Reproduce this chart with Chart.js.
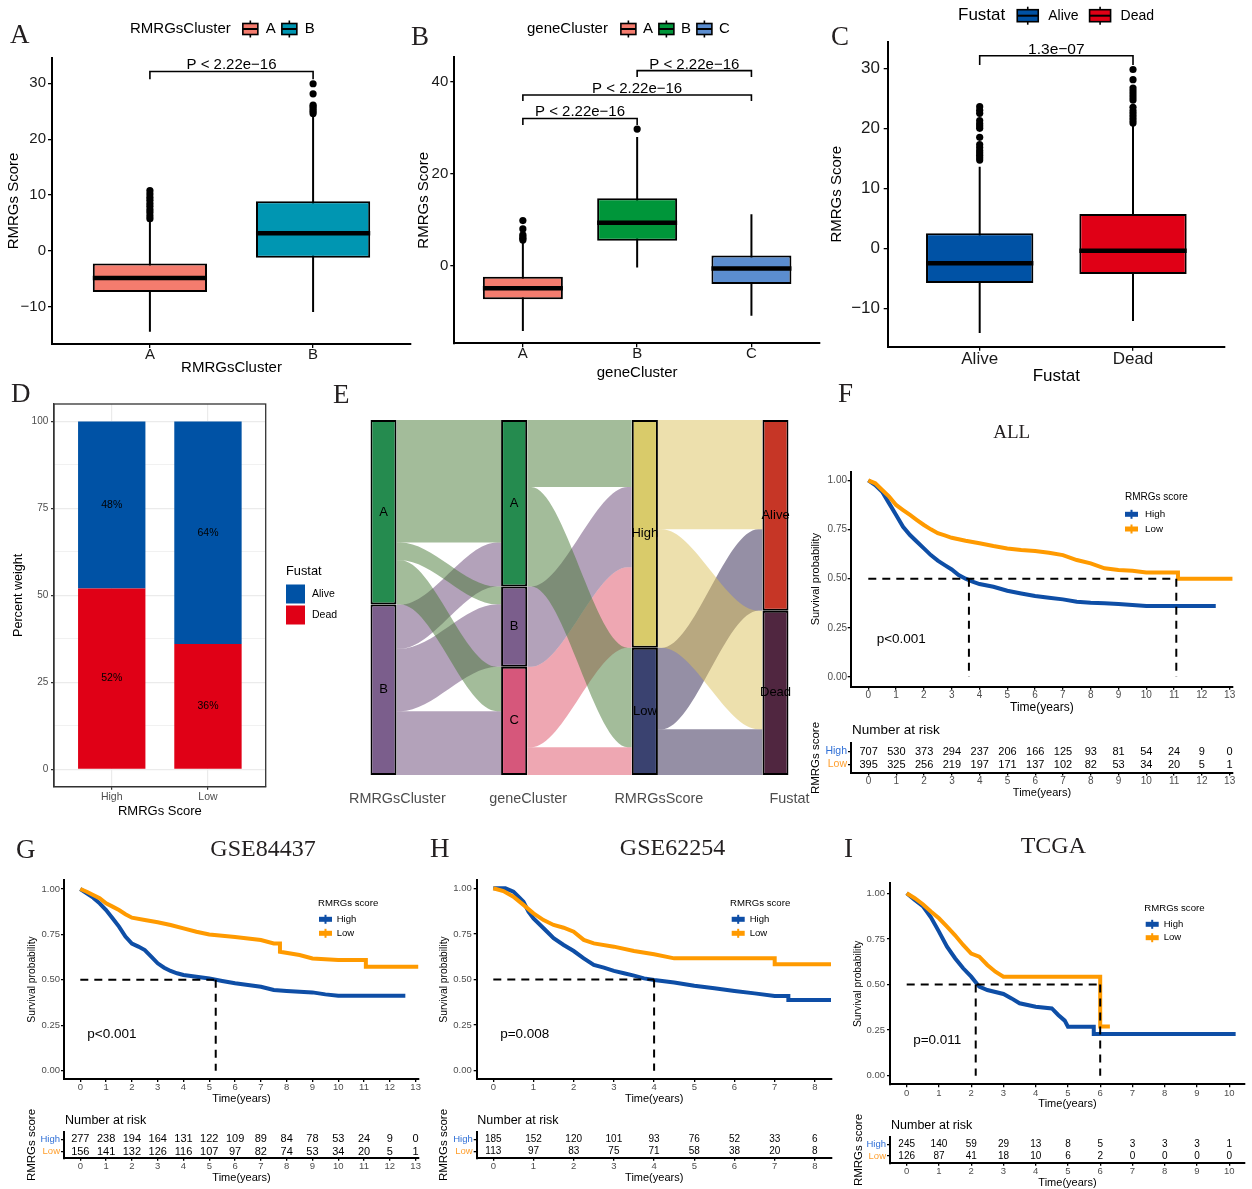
<!DOCTYPE html>
<html>
<head>
<meta charset="utf-8">
<script src="https://cdn.jsdelivr.net/npm/chart.js@4.4.1/dist/chart.umd.min.js"></script>
<style>
  body { margin: 0; background: #fff; }
  #page { position: relative; width: 1252px; height: 1189px; overflow: hidden; background: #fff; }
  #page canvas { position: absolute; }
  .tag { position: absolute; font-family: 'Liberation Serif', 'Times New Roman', serif; font-size: 27px; line-height: 27px; color: #231f20; }
</style>
</head>
<body>
<div id="page">
  <canvas id="cA" width="420" height="390" style="left:0px;top:0px"></canvas>
  <canvas id="cB" width="415" height="390" style="left:415px;top:0px"></canvas>
  <canvas id="cC" width="442" height="390" style="left:810px;top:0px"></canvas>
  <canvas id="cD" width="340" height="425" style="left:0px;top:395px"></canvas>
  <canvas id="cE" width="470" height="425" style="left:340px;top:395px"></canvas>
  <canvas id="cF" width="452" height="318" style="left:800px;top:400px"></canvas>
  <canvas id="cFr" width="452" height="82" style="left:800px;top:718px"></canvas>
  <canvas id="cG" width="425" height="282" style="left:0px;top:826px"></canvas>
  <canvas id="cGr" width="425" height="81" style="left:0px;top:1108px"></canvas>
  <canvas id="cH" width="412" height="282" style="left:425px;top:826px"></canvas>
  <canvas id="cHr" width="412" height="81" style="left:425px;top:1108px"></canvas>
  <canvas id="cI" width="415" height="286" style="left:837px;top:826px"></canvas>
  <canvas id="cIr" width="415" height="78" style="left:837px;top:1112px"></canvas>
  <div class="tag" style="left:10px;top:21px">A</div>
  <div class="tag" style="left:411px;top:23px">B</div>
  <div class="tag" style="left:831px;top:23px">C</div>
  <div class="tag" style="left:11px;top:380px">D</div>
  <div class="tag" style="left:333px;top:381px">E</div>
  <div class="tag" style="left:838px;top:380px">F</div>
  <div class="tag" style="left:16px;top:836px">G</div>
  <div class="tag" style="left:430px;top:835px">H</div>
  <div class="tag" style="left:844px;top:835px">I</div>
</div>
<script>
// ---------- A: RMRGs score by RMRGsCluster  (min, q1, median, q3, max)
const clusterNames = ['A', 'B']
const clusterColors = ['#F47C6E', '#0096B2']
const clusterStats = [[-14.4, -7.3, -4.8, -2.2, 5.6], [-10.9, -1.2, 3.2, 8.9, 24.0]]
const clusterOutliers = [[5.8, 6.3, 6.9, 7.4, 8.0, 8.5, 9.1, 9.6, 10.2, 10.8], [24.6, 25.0, 25.4, 25.8, 26.1, 28.1, 29.9]]
const clusterTests = [[1, 2, 32.1, 30.7, 'P < 2.22e\u221216']]

// ---------- B: RMRGs score by geneCluster
const geneNames = ['A', 'B', 'C']
const geneColors = ['#F47C6E', '#00963A', '#5B8DCF']
const geneStats = [[-14.2, -7.3, -4.9, -2.4, 5.3], [-0.4, 5.4, 9.35, 14.65, 28.0], [-10.9, -4.0, -0.6, 2.2, 11.2]]
const geneOutliers = [[5.6, 5.9, 6.3, 6.7, 8.0, 9.8], [29.7], []]
const geneTests = [[1, 2, 32.0, 30.6, 'P < 2.22e\u221216'], [1, 3, 37.1, 35.8, 'P < 2.22e\u221216'], [2, 3, 42.4, 41.0, 'P < 2.22e\u221216']]

// ---------- C: RMRGs score by Fustat
const fustatNames = ['Alive', 'Dead']
const fustatColors = ['#0052A5', '#E00016']
const fustatStats = [[-14.1, -5.8, -2.5, 2.5, 13.6], [-12.1, -4.3, -0.4, 5.7, 20.8]]
const fustatOutliers = [[14.7, 15.1, 15.5, 15.9, 16.3, 16.8, 17.3, 18.5, 20.0, 20.4, 20.8, 21.3, 22.5, 23.0, 23.6],
  [20.9, 21.4, 21.9, 22.4, 22.9, 23.5, 24.7, 25.2, 25.7, 26.2, 26.7, 28.1, 29.8]]
const fustatTests = [[1, 2, 32.1, 30.55, '1.3e\u221207']]
const scoreTicks = [-10, 0, 10, 20, 30]

// ---------- D: percent of fustat by score group
const scoreGroups = ['High', 'Low']
const deadShare = [52, 36]
const aliveShare = [48, 64]
const shareGrid = [0, 12.5, 25, 37.5, 50, 62.5, 75, 87.5, 100]

// ---------- E: alluvial
const axisNames = ['RMRGsCluster', 'geneCluster', 'RMRGsScore', 'Fustat']
const strataNames = [['A', 'B'], ['A', 'B', 'C'], ['High', 'Low'], ['Alive', 'Dead']]
const strataColors = [['#258B4F', '#7B5E8C'], ['#258B4F', '#7B5E8C', '#D6577B'], ['#D9CB6A', '#3A4270'], ['#C63626', '#502640']]
const flowCluster = [[380, 55, 138], [137, 194, 198]]   // RMRGsCluster -> geneCluster
const flowGene = [[208, 309], [249, 0], [250, 86]]      // geneCluster -> RMRGsScore
const flowScore = [[339, 368], [253, 142]]              // RMRGsScore -> Fustat
const flowColors = [['rgba(71,121,53,0.5)', 'rgba(103,69,117,0.5)'],
  ['rgba(71,121,53,0.5)', 'rgba(103,69,117,0.5)', 'rgba(221,79,101,0.5)'],
  ['rgba(219,193,91,0.5)', 'rgba(43,31,75,0.5)']]

// ---------- KM curves (repeated times mark a drop)
const kmColors = ['#0E4EA6', '#FF9A00']
const riskColors = ['#2F6FD6', '#FF9F2E']
const survTicks = [0, 0.25, 0.5, 0.75, 1]

const allHighT = [0, 0.25, 0.5, 0.75, 1, 1.25, 1.5, 1.75, 2, 2.25, 2.5, 2.75, 3, 3.25, 3.5, 3.75, 4, 4.5, 5, 5.5, 6, 6.5, 7, 7.5, 8, 8.5, 9, 9.5, 10, 12.5]
const allHighS = [1, 0.976, 0.942, 0.883, 0.824, 0.764, 0.722, 0.688, 0.654, 0.62, 0.592, 0.569, 0.547, 0.519, 0.5, 0.485, 0.473, 0.459, 0.439, 0.425, 0.412, 0.403, 0.395, 0.383, 0.378, 0.375, 0.371, 0.366, 0.361, 0.361]
const allLowT = [0, 0.25, 0.5, 0.75, 1, 1.25, 1.5, 1.75, 2, 2.25, 2.5, 2.75, 3, 3.5, 4, 4.5, 5, 5.5, 6, 6.5, 7, 7.5, 8, 8.5, 9, 9.5, 10, 11.14, 11.14, 13.1]
const allLowS = [1, 0.985, 0.951, 0.917, 0.875, 0.849, 0.824, 0.798, 0.773, 0.751, 0.731, 0.72, 0.708, 0.693, 0.68, 0.666, 0.654, 0.646, 0.641, 0.632, 0.62, 0.595, 0.578, 0.553, 0.544, 0.541, 0.532, 0.532, 0.5, 0.5]
const allMedians = [3.62, 11.08]
const allYears = [0, 1, 2, 3, 4, 5, 6, 7, 8, 9, 10, 11, 12, 13]
const allRiskHigh = [707, 530, 373, 294, 237, 206, 166, 125, 93, 81, 54, 24, 9, 0]
const allRiskLow = [395, 325, 256, 219, 197, 171, 137, 102, 82, 53, 34, 20, 5, 1]

const g84HighT = [0, 0.25, 0.5, 0.75, 1, 1.25, 1.5, 1.75, 2, 2.25, 2.5, 2.75, 3, 3.25, 3.5, 3.75, 4, 4.5, 5, 5.5, 6, 6.5, 7, 7.5, 8, 9, 9.5, 10, 12.6]
const g84HighS = [1, 0.976, 0.952, 0.921, 0.884, 0.839, 0.793, 0.738, 0.7, 0.683, 0.664, 0.628, 0.591, 0.567, 0.549, 0.536, 0.527, 0.517, 0.508, 0.494, 0.481, 0.472, 0.462, 0.444, 0.439, 0.431, 0.42, 0.413, 0.413]
const g84LowT = [0, 0.25, 0.5, 0.75, 1, 1.25, 1.5, 1.75, 2, 2.5, 3, 3.5, 4, 4.5, 5, 5.5, 6, 6.5, 7, 7.5, 7.74, 7.74, 8.5, 9, 10, 11.07, 11.07, 13.1]
const g84LowS = [1, 0.985, 0.967, 0.949, 0.921, 0.903, 0.884, 0.861, 0.842, 0.829, 0.817, 0.802, 0.783, 0.765, 0.75, 0.743, 0.736, 0.728, 0.719, 0.7, 0.7, 0.655, 0.637, 0.618, 0.609, 0.609, 0.572, 0.572]
const g84Medians = [5.25]
const g84Years = [0, 1, 2, 3, 4, 5, 6, 7, 8, 9, 10, 11, 12, 13]
const g84RiskHigh = [277, 238, 194, 164, 131, 122, 109, 89, 84, 78, 53, 24, 9, 0]
const g84RiskLow = [156, 141, 132, 126, 116, 107, 97, 82, 74, 53, 34, 20, 5, 1]

const g62HighT = [0, 0.3, 0.5, 0.625, 0.75, 0.875, 1, 1.25, 1.5, 1.75, 2, 2.25, 2.5, 2.75, 3, 3.25, 3.5, 3.75, 4, 4.5, 5, 5.5, 6, 6.5, 7, 7.34, 7.34, 8.4]
const g62HighS = [1, 1, 0.982, 0.954, 0.927, 0.872, 0.835, 0.781, 0.726, 0.689, 0.656, 0.616, 0.58, 0.565, 0.547, 0.534, 0.521, 0.506, 0.497, 0.484, 0.466, 0.452, 0.437, 0.424, 0.41, 0.41, 0.388, 0.388]
const g62LowT = [0, 0.25, 0.5, 0.75, 1, 1.25, 1.5, 1.75, 2, 2.25, 2.5, 3, 3.5, 4, 4.5, 7.0, 7.0, 8.4]
const g62LowS = [1, 0.985, 0.954, 0.909, 0.863, 0.826, 0.799, 0.784, 0.762, 0.717, 0.698, 0.68, 0.656, 0.638, 0.616, 0.616, 0.583, 0.583]
const g62Medians = [4.0]
const g62Years = [0, 1, 2, 3, 4, 5, 6, 7, 8]
const g62RiskHigh = [185, 152, 120, 101, 93, 76, 52, 33, 6]
const g62RiskLow = [113, 97, 83, 75, 71, 58, 38, 20, 8]

const tcgaHighT = [0, 0.25, 0.5, 0.75, 1, 1.25, 1.5, 1.75, 2, 2.25, 2.5, 3, 3.25, 3.5, 4, 4.5, 4.7, 4.9, 5.0, 5.8, 5.8, 10.2]
const tcgaHighS = [1, 0.963, 0.93, 0.868, 0.79, 0.707, 0.644, 0.589, 0.543, 0.488, 0.47, 0.448, 0.424, 0.397, 0.378, 0.369, 0.333, 0.302, 0.269, 0.269, 0.229, 0.229]
const tcgaLowT = [0, 0.25, 0.5, 0.75, 1, 1.25, 1.5, 1.75, 2, 2.25, 2.5, 2.75, 3, 6.0, 6.0, 6.3]
const tcgaLowS = [1, 0.973, 0.94, 0.9, 0.863, 0.817, 0.77, 0.717, 0.67, 0.653, 0.607, 0.57, 0.543, 0.543, 0.27, 0.27]
const tcgaMedians = [2.14, 6.0]
const tcgaYears = [0, 1, 2, 3, 4, 5, 6, 7, 8, 9, 10]
const tcgaRiskHigh = [245, 140, 59, 29, 13, 8, 5, 3, 3, 3, 1]
const tcgaRiskLow = [126, 87, 41, 18, 10, 6, 2, 0, 0, 0, 0]

// ---------- helpers
const SANS = "'Liberation Sans', Arial, Helvetica, sans-serif"
const SERIF = "'Liberation Serif', 'Times New Roman', serif"
Chart.defaults.font.family = SANS
Chart.defaults.color = '#000'
const font = (size, fam) => size + 'px ' + (fam || SANS)
const minus = v => v < 0 ? '\u2212' + (-v) : '' + v
const sum = a => a.reduce((s, v) => s + v, 0)

const base = pad => ({
  responsive: false, animation: false, events: [],
  layout: {padding: pad},
  plugins: {legend: {display: false}, tooltip: {enabled: false}}
})

// linear axis with fixed thickness so the plot area lands where the figure has it
function axis(o) {
  return {
    type: 'linear', min: o.min, max: o.max, bounds: 'data', offset: false, reverse: !!o.reverse,
    display: o.display !== false, stacked: !!o.stacked,
    afterBuildTicks: a => { a.ticks = o.ticks.map(v => ({value: v})) },
    afterFit: a => {
      if (o.horizontal) a.height = o.size; else a.width = o.size
      a.paddingLeft = 0; a.paddingRight = 0; a.paddingTop = 0; a.paddingBottom = 0
    },
    ticks: {callback: o.label || (v => v), font: {size: o.font}, color: o.color || '#4d4d4d', padding: o.pad || 0,
      autoSkip: false, maxRotation: 0, labelOffset: o.labelOffset || 0},
    grid: o.grid || {display: true, drawOnChartArea: false, offset: false, tickLength: o.tl == null ? 3 : o.tl, color: '#000', lineWidth: 1.3},
    border: o.border || {display: true, color: '#000', width: 2},
    title: {display: !!o.title, text: o.title, font: {size: o.titleSize}, color: '#000',
      padding: o.horizontal ? {top: 0, bottom: o.titlePad} : {top: o.titlePad, bottom: 0}}
  }
}

function drawIcon(ctx, kind, x, y, w, h, color) {
  ctx.fillStyle = color
  ctx.strokeStyle = '#000'
  if (kind === 'box') {
    ctx.lineWidth = 1.6
    ctx.beginPath(); ctx.moveTo(x + w / 2, y - h / 2 - 3); ctx.lineTo(x + w / 2, y + h / 2 + 3); ctx.stroke()
    ctx.fillRect(x, y - h / 2, w, h)
    ctx.strokeRect(x, y - h / 2, w, h)
    ctx.lineWidth = 2
    ctx.beginPath(); ctx.moveTo(x, y); ctx.lineTo(x + w, y); ctx.stroke()
  } else if (kind === 'bar') {
    ctx.fillRect(x, y - h / 2, w, h)
    ctx.fillRect(x + w / 2 - 1, y - h / 2 - 2, 2, h + 4)
  } else {
    ctx.fillRect(x, y - h / 2, w, h)
  }
}

function drawKey(ctx, k) {
  ctx.textAlign = 'left'
  ctx.textBaseline = 'middle'
  ctx.font = k.titleFont
  ctx.fillStyle = '#000'
  ctx.fillText(k.title, k.x, k.y)
  let cx = k.x + ctx.measureText(k.title).width + (k.titleGap || 0)
  k.labels.forEach((lab, i) => {
    const ix = k.row ? cx : k.x + (k.indent || 0)
    const iy = k.row ? k.y : k.y + k.first + i * k.step
    drawIcon(ctx, k.icon, ix, iy, k.iconW, k.iconH, k.colors[i])
    ctx.font = k.font
    ctx.fillStyle = '#000'
    ctx.fillText(lab, ix + k.iconW + k.textGap, iy)
    if (k.row) cx = ix + k.iconW + k.textGap + ctx.measureText(lab).width + k.itemGap
  })
}

// texts, keys, frames and value labels drawn on top of each chart
function deco(spec) {
  return {
    id: 'deco',
    afterDraw(chart) {
      const ctx = chart.ctx
      const sx = chart.scales.x, sy = chart.scales.y
      ctx.save()
      if (spec.frame) {
        const a = chart.chartArea
        ctx.strokeStyle = spec.frame
        ctx.lineWidth = 1.3
        ctx.strokeRect(a.left, a.top, a.right - a.left, a.bottom - a.top)
      }
      chart.data.datasets.forEach((ds, di) => {
        const meta = chart.getDatasetMeta(di)
        ctx.textAlign = 'center'
        ctx.textBaseline = 'middle'
        if (spec.bars && meta.type === 'bar') {
          ctx.font = spec.bars.font
          ctx.fillStyle = '#000'
          meta.data.forEach((el, i) => ctx.fillText(spec.bars.text(ds.data[i], i), el.x, (el.y + el.base) / 2))
        }
        if (spec.counts && ds.counts) {
          ctx.font = spec.counts
          ctx.fillStyle = '#000'
          meta.data.forEach((el, i) => ctx.fillText(ds.counts[i], el.x, el.y))
        }
      })
      const texts = spec.texts || []
      texts.forEach(t => {
        const px = t.at ? sx.getPixelForValue(t.at[0]) : t.pos[0]
        const py = t.at ? sy.getPixelForValue(t.at[1]) : t.pos[1]
        ctx.font = t.font
        ctx.fillStyle = t.color || '#000'
        ctx.textAlign = t.align || 'center'
        ctx.textBaseline = t.base || 'middle'
        ctx.fillText(t.text, px + (t.dx || 0), py + (t.dy || 0))
      })
      if (spec.key) drawKey(ctx, spec.key)
      ctx.restore()
    }
  }
}

// ---------- boxplots
function boxChart(id, o) {
  const whisk = [], meds = [], dots = [], brk = []
  o.stats.forEach((s, i) => {
    const x = i + 1
    whisk.push({x: x, y: s[0]}, {x: x, y: s[4]}, {x: x, y: null})
    meds.push({x: x - 0.35, y: s[2]}, {x: x + 0.35, y: s[2]}, {x: x, y: null})
    o.outliers[i].forEach(v => dots.push({x: x, y: v}))
  })
  o.tests.forEach(t => brk.push({x: t[0], y: t[3]}, {x: t[0], y: t[2]}, {x: t[1], y: t[2]}, {x: t[1], y: t[3]}, {x: t[1], y: null}))
  const texts = o.tests.map(t => ({text: t[4], at: [(t[0] + t[1]) / 2, t[2]], dy: -2, base: 'alphabetic', font: font(o.pSize)}))
  new Chart(document.getElementById(id), {
    type: 'bar',
    data: {datasets: [
      {type: 'line', data: whisk, borderColor: '#000', borderWidth: 2, pointRadius: 0, order: 4},
      {type: 'bar', data: o.stats.map((s, i) => ({x: i + 1, y: [s[1], s[3]]})), backgroundColor: o.colors,
        borderColor: '#000', borderWidth: 2, borderSkipped: false, grouped: false, barPercentage: 0.7, categoryPercentage: 1, order: 3},
      {type: 'line', data: meds, borderColor: '#000', borderWidth: 4.5, pointRadius: 0, order: 2},
      {type: 'line', data: dots, showLine: false, pointRadius: 3.6, pointBackgroundColor: '#000', pointBorderWidth: 0, order: 1},
      {type: 'line', data: brk, borderColor: '#000', borderWidth: 1.6, pointRadius: 0, order: 1}
    ]},
    options: Object.assign(base(o.pad), {scales: {
      x: axis({horizontal: true, min: 0.4, max: o.names.length + 0.6, ticks: o.names.map((n, i) => i + 1), label: v => o.names[v - 1],
        size: o.xh, font: o.xSize, color: '#1a1a1a', pad: o.xpad, tl: 4, title: o.xTitle, titleSize: o.xTitleSize, titlePad: o.xtp}),
      y: axis({min: o.yMin, max: o.yMax, ticks: o.yTicks, label: minus, size: o.yw, font: o.ySize, color: '#1a1a1a',
        pad: o.ypad, tl: 4, title: 'RMRGs Score', titleSize: 15, titlePad: o.ytp})
    }}),
    plugins: [deco({texts: texts, key: Object.assign({row: true, icon: 'box', labels: o.names, colors: o.colors}, o.key)})]
  })
}

boxChart('cA', {names: clusterNames, colors: clusterColors, stats: clusterStats, outliers: clusterOutliers, tests: clusterTests,
  pad: {left: 0, top: 58, right: 9, bottom: 0}, yMin: -16.6, yMax: 34.5, yTicks: scoreTicks, yw: 52, ySize: 15, ypad: 2, ytp: 5,
  xh: 46, xSize: 15, xpad: -2, xTitle: 'RMRGsCluster', xTitleSize: 15, xtp: 13, pSize: 15,
  key: {title: 'RMRGsCluster', x: 130, y: 29, titleFont: font(15), font: font(15), titleGap: 12, iconW: 15, iconH: 11, textGap: 8, itemGap: 6}})

boxChart('cB', {names: geneNames, colors: geneColors, stats: geneStats, outliers: geneOutliers, tests: geneTests,
  pad: {left: 0, top: 57.3, right: 10, bottom: 0}, yMin: -16.87, yMax: 45.3, yTicks: [0, 20, 40], yw: 39.3, ySize: 15, ypad: 2, ytp: 0,
  xh: 46.7, xSize: 15, xpad: -2, xTitle: 'geneCluster', xTitleSize: 15, xtp: 8.3, pSize: 15,
  key: {title: 'geneCluster', x: 112, y: 29, titleFont: font(15), font: font(15), titleGap: 13, iconW: 15, iconH: 11, textGap: 7, itemGap: 6}})

boxChart('cC', {names: fustatNames, colors: fustatColors, stats: fustatStats, outliers: fustatOutliers, tests: fustatTests,
  pad: {left: 0, top: 41.7, right: 27, bottom: 0}, yMin: -16.4, yMax: 34.43, yTicks: scoreTicks, yw: 77.7, ySize: 17, ypad: 3.7, ytp: 17.7,
  xh: 43.3, xSize: 17, xpad: -2, xTitle: 'Fustat', xTitleSize: 17, xtp: 3.1, pSize: 15.5,
  key: {title: 'Fustat', x: 148, y: 15.7, titleFont: font(17), font: font(14), titleGap: 12, iconW: 21, iconH: 12, textGap: 10, itemGap: 11}})

// ---------- D: stacked percent bars
new Chart(document.getElementById('cD'), {
  type: 'bar',
  data: {datasets: [
    {label: 'Dead', data: scoreGroups.map((g, i) => ({x: i + 1, y: deadShare[i]})), backgroundColor: fustatColors[1], barPercentage: 0.7, categoryPercentage: 1},
    {label: 'Alive', data: scoreGroups.map((g, i) => ({x: i + 1, y: aliveShare[i]})), backgroundColor: fustatColors[0], barPercentage: 0.7, categoryPercentage: 1}
  ]},
  options: Object.assign(base({left: 0, top: 9, right: 74.3, bottom: 0}), {scales: {
    x: axis({horizontal: true, stacked: true, min: 0.4, max: 2.6, ticks: [1, 2], label: v => scoreGroups[v - 1], size: 33.3, font: 10.5, pad: 1,
      title: 'RMRGs Score', titleSize: 13, titlePad: 1.2,
      grid: {display: true, drawOnChartArea: true, offset: false, color: '#EBEBEB', lineWidth: 1.2, tickColor: '#333', tickLength: 3},
      border: {display: true, color: '#333', width: 1.3}}),
    y: axis({stacked: true, min: -5, max: 105, ticks: shareGrid, label: v => v % 25 ? '' : v, size: 54, font: 10, pad: 2.7,
      title: 'Percent weight', titleSize: 12.6, titlePad: 11.4,
      grid: {display: true, drawOnChartArea: true, color: '#EBEBEB', tickLength: 3,
        lineWidth: c => c.tick && c.tick.value % 25 ? 0.7 : 1.2,
        tickColor: c => c.tick && c.tick.value % 25 ? 'rgba(0,0,0,0)' : '#333'},
      border: {display: true, color: '#333', width: 1.3}})
  }}),
  plugins: [deco({frame: '#333', bars: {font: font(10.5), text: d => d.y + '%'},
    key: {title: 'Fustat', x: 286, y: 176.7, titleFont: font(12.8), font: font(10.5), icon: 'square', iconW: 19, iconH: 19,
      textGap: 7, first: 22.3, step: 21, labels: fustatNames, colors: fustatColors}})]
})

// ---------- E: alluvial (strata as floating bars, flows as filled curve pairs)
const flows = [flowCluster, flowGene, flowScore]
const totals = [flowCluster.map(r => sum(r))]
flows.forEach((f, k) => { totals[k + 1] = f[0].map((v, j) => sum(f.map(r => r[j]))) })
const starts = totals.map(t => t.map((v, i) => sum(t.slice(0, i))))
const grand = sum(totals[0])
const alluvial = []
flows.forEach((f, k) => {
  f.forEach((row, i) => {
    row.forEach((n, j) => {
      if (!n) return
      const y0 = starts[k][i] + sum(row.slice(0, j))
      const y1 = starts[k + 1][j] + sum(f.slice(0, i).map(r => r[j]))
      const xa = k + 0.1, xb = k + 0.9, d = 0.03
      const edge = off => [{x: xa, y: y0 + off}, {x: xa + d, y: y0 + off}, {x: xb - d, y: y1 + off}, {x: xb, y: y1 + off}]
      const common = {type: 'line', borderColor: 'rgba(0,0,0,0)', borderWidth: 1, pointRadius: 0, cubicInterpolationMode: 'monotone', order: 2}
      alluvial.push(Object.assign({data: edge(0), fill: false}, common))
      alluvial.push(Object.assign({data: edge(n), fill: '-1', backgroundColor: flowColors[k][i]}, common))
    })
  })
})
const strataBars = [], strataFill = [], strataLabels = []
totals.forEach((t, k) => t.forEach((v, i) => {
  strataBars.push({x: k, y: [starts[k][i], starts[k][i] + v]})
  strataFill.push(strataColors[k][i])
  strataLabels.push(strataNames[k][i])
}))
alluvial.push({type: 'bar', data: strataBars, backgroundColor: strataFill, borderColor: '#000', borderWidth: 2,
  borderSkipped: false, grouped: false, barPercentage: 0.2, categoryPercentage: 1, order: 1})

new Chart(document.getElementById('cE'), {
  type: 'bar',
  data: {datasets: alluvial},
  options: Object.assign(base({left: 30.4, top: 25, right: 21.4, bottom: 0}), {scales: {
    x: axis({horizontal: true, min: -0.1, max: 3.1, ticks: [0, 1, 2, 3], label: v => axisNames[v], size: 45, font: 14.4, color: '#4d4d4d',
      pad: 15.4, labelOffset: 14, grid: {display: false, drawTicks: false}, border: {display: false}}),
    y: axis({min: 0, max: grand, reverse: true, display: false, ticks: [], size: 0})
  }}),
  plugins: [deco({bars: {font: font(13), text: (d, i) => strataLabels[i]}})]
})

// ---------- KM panels
function kmChart(id, o) {
  const guide = [{x: 0, y: 0.5}, {x: Math.max.apply(null, o.medians), y: 0.5}, {x: 0, y: null}]
  o.medians.forEach(m => guide.push({x: m, y: 0.5}, {x: m, y: 0}, {x: m, y: null}))
  const curve = (t, s, c, ord) => ({data: t.map((v, i) => ({x: v, y: s[i]})), borderColor: c, borderWidth: 4,
    pointRadius: 0, order: ord})
  new Chart(document.getElementById(id), {
    type: 'line',
    data: {datasets: [
      curve(o.highT, o.highS, kmColors[0], 3),
      curve(o.lowT, o.lowS, kmColors[1], 2),
      {data: guide, borderColor: '#000', borderWidth: 2, borderDash: [8, 6], pointRadius: 0, order: 1}
    ]},
    options: Object.assign(base(o.pad), {scales: {
      x: axis({horizontal: true, min: o.xMin, max: o.xMax, ticks: o.years, size: o.xh, font: o.tick, pad: 0,
        title: 'Time(years)', titleSize: o.xt, titlePad: o.xtp}),
      y: axis({min: o.yMin, max: o.yMax, ticks: survTicks, label: v => v.toFixed(2), size: o.yw, font: o.tick, pad: o.ypad,
        title: 'Survival probability', titleSize: o.yt, titlePad: o.ytp})
    }}),
    plugins: [deco({
      texts: [{text: o.title, pos: o.titlePos, font: font(o.titleSize, SERIF), color: '#231f20'},
        {text: o.pval, at: o.pAt, align: 'left', font: font(13.5)}],
      key: Object.assign({title: 'RMRGs score', titleFont: font(o.keyTitle), font: font(o.keyFont), icon: 'bar', iconW: 13, iconH: 5,
        labels: ['High', 'Low'], colors: kmColors}, o.key)})]
  })
}

function riskChart(id, o) {
  const row = (y, counts) => ({data: o.years.map(t => ({x: t, y: y})), counts: counts, showLine: false, pointRadius: 0})
  new Chart(document.getElementById(id), {
    type: 'line',
    data: {datasets: [row(1, o.high), row(0, o.low)]},
    options: Object.assign(base(o.pad), {scales: {
      x: axis({horizontal: true, min: o.xMin, max: o.xMax, ticks: o.years, size: o.xh, font: o.tick, pad: 0, tl: 2.5,
        title: 'Time(years)', titleSize: 11, titlePad: o.xtp}),
      y: axis({min: o.yMin, max: o.yMax, ticks: [0, 1], label: v => v === 1 ? 'High' : 'Low', size: o.yw, font: o.lab, pad: 1,
        color: c => c.tick && c.tick.value === 1 ? riskColors[0] : riskColors[1],
        title: 'RMRGs score', titleSize: 11.5, titlePad: o.ytp})
    }}),
    plugins: [deco({counts: font(o.num), texts: [{text: 'Number at risk', pos: o.head, align: 'left', font: font(o.headSize)}]})]
  })
}

kmChart('cF', {highT: allHighT, highS: allHighS, lowT: allLowT, lowS: allLowS, medians: allMedians, years: allYears,
  pad: {left: 0, top: 71.7, right: 19, bottom: 0}, xMin: -0.633, xMax: 13.12, yMin: -0.049, yMax: 1.044,
  xh: 31.3, yw: 50.7, tick: 10, ypad: 0.7, xt: 12, xtp: 2.8, yt: 11, ytp: 9.4,
  title: 'ALL', titlePos: [211.7, 33], titleSize: 19, pval: 'p<0.001', pAt: [0.3, 0.19],
  keyTitle: 10, keyFont: 9.8, key: {x: 325, y: 97, first: 17.3, step: 14.7, textGap: 7}})
riskChart('cFr', {years: allYears, high: allRiskHigh, low: allRiskLow, pad: {left: 0, top: 25, right: 19, bottom: 0},
  xMin: -0.633, xMax: 13.12, yMin: -0.654, yMax: 1.654, xh: 27, yw: 51, tick: 10, xtp: 0.4, lab: 10.5, ytp: 9.1,
  num: 11, head: [52, 12], headSize: 13.5})

kmChart('cG', {highT: g84HighT, highS: g84HighS, lowT: g84LowT, lowS: g84LowS, medians: g84Medians, years: g84Years,
  pad: {left: 0, top: 54, right: 6, bottom: 0}, xMin: -0.632, xMax: 13.13, yMin: -0.0457, yMax: 1.0495,
  xh: 29, yw: 64, tick: 9.5, ypad: 1, xt: 11, xtp: 2.1, yt: 10.3, ytp: 26.1,
  title: 'GSE84437', titlePos: [263, 24], titleSize: 24, pval: 'p<0.001', pAt: [0.27, 0.2],
  keyTitle: 9.6, keyFont: 9.5, key: {x: 318, y: 77.3, first: 16, step: 14, indent: 1, textGap: 4.7}})
riskChart('cGr', {years: g84Years, high: g84RiskHigh, low: g84RiskLow, pad: {left: 0, top: 23.7, right: 6, bottom: 0},
  xMin: -0.632, xMax: 13.13, yMin: -0.53, yMax: 1.61, xh: 30.7, yw: 64, tick: 9.5, xtp: 4.1, lab: 9.5, ytp: 24.8,
  num: 11, head: [65, 12.7], headSize: 12.5})

kmChart('cH', {highT: g62HighT, highS: g62HighS, lowT: g62LowT, lowS: g62LowS, medians: g62Medians, years: g62Years,
  pad: {left: 0, top: 54, right: 5.3, bottom: 0}, xMin: -0.413, xMax: 8.418, yMin: -0.0455, yMax: 1.0455,
  xh: 29, yw: 51.7, tick: 9.5, ypad: 2, xt: 11, xtp: 2.1, yt: 10.3, ytp: 12.8,
  title: 'GSE62254', titlePos: [247.5, 22.3], titleSize: 24, pval: 'p=0.008', pAt: [0.17, 0.2],
  keyTitle: 9.6, keyFont: 9.5, key: {x: 305, y: 77.3, first: 16, step: 14, indent: 1.7, textGap: 5}})
riskChart('cHr', {years: g62Years, high: g62RiskHigh, low: g62RiskLow, pad: {left: 0, top: 23.7, right: 5.3, bottom: 0},
  xMin: -0.413, xMax: 8.418, yMin: -0.53, yMax: 1.61, xh: 30.7, yw: 51.7, tick: 9.5, xtp: 4.1, lab: 9.5, ytp: 12,
  num: 10, head: [52.3, 12.7], headSize: 12.5})

kmChart('cI', {highT: tcgaHighT, highS: tcgaHighS, lowT: tcgaLowT, lowS: tcgaLowS, medians: tcgaMedians, years: tcgaYears,
  pad: {left: 0, top: 57.3, right: 7, bottom: 0}, xMin: -0.518, xMax: 10.49, yMin: -0.047, yMax: 1.0548,
  xh: 27.7, yw: 53, tick: 9.5, ypad: 2, xt: 11, xtp: 1.2, yt: 10.3, ytp: 15.1,
  title: 'TCGA', titlePos: [216.3, 21.2], titleSize: 24, pval: 'p=0.011', pAt: [0.2, 0.196],
  keyTitle: 9.6, keyFont: 9.5, key: {x: 307.3, y: 82.3, first: 16, step: 13.4, indent: 1.4, textGap: 5}})
riskChart('cIr', {years: tcgaYears, high: tcgaRiskHigh, low: tcgaRiskLow, pad: {left: 0, top: 24.7, right: 7, bottom: 0},
  xMin: -0.518, xMax: 10.49, yMin: -0.62, yMax: 1.65, xh: 26.7, yw: 53, tick: 9.5, xtp: 0.1, lab: 9.5, ytp: 14.8,
  num: 10, head: [54, 13.7], headSize: 12.5})
</script>
</body>
</html>
